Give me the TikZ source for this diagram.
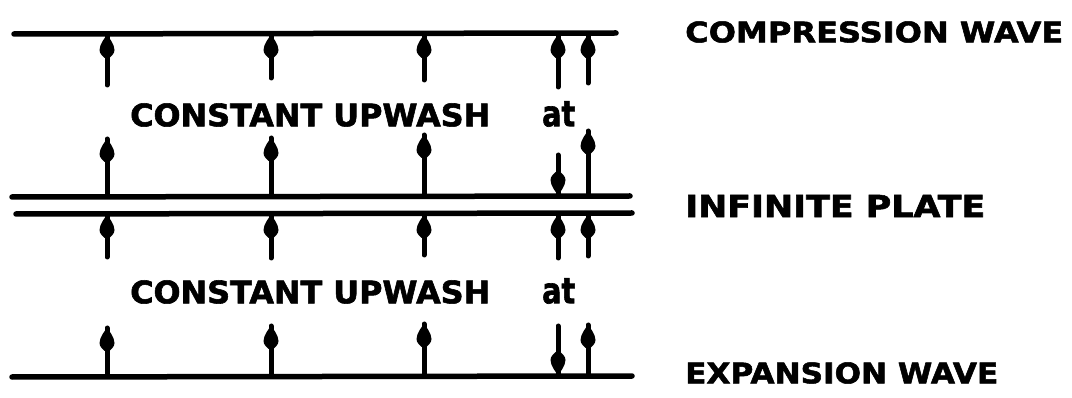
\documentclass[tikz,border=0pt]{standalone}
\usepackage{fontspec}
\setmainfont{DejaVu Sans}
\newfontfamily\heavy{DejaVu Sans Bold}[FakeBold=1.8]
\usepackage{graphicx}
\newcommand\lettr[3]{\resizebox{#1pt}{#2pt}{\heavy #3}}
\begin{document}
\begin{tikzpicture}[x=1pt,y=-1pt,
  rule/.style={line width=5.5pt,line cap=round},
  shaft/.style={line width=5pt,line cap=round},
  lbl/.style={inner sep=0pt,anchor=west},
  txt/.style={inner sep=0pt,anchor=west},
  head/.pic={\fill[line join=round] (0,0)
     .. controls (1.5,2) and (7.5,9) .. (7.5,15)
     .. controls (7.5,19) and (4,21) .. (2.5,23)
     -- (-2.5,23)
     .. controls (-4,21) and (-7.5,19) .. (-7.5,15)
     .. controls (-7.5,9) and (-1.5,2) .. (0,0) -- cycle;}]
\useasboundingbox (0,0) rectangle (1072,398);
% horizontal lines
\coordinate (topL) at (14,34);   \coordinate (topR) at (616,33);
\coordinate (plAL) at (12,197);  \coordinate (plAR) at (630,196);
\coordinate (plBL) at (16,214);  \coordinate (plBR) at (632,213);
\coordinate (botL) at (12,377);  \coordinate (botR) at (632,376);
\draw[rule] (topL) -- (topR);
\draw[rule] (plAL) -- (plAR);
\draw[rule] (plBL) -- (plBR);
\draw[rule] (botL) -- (botR);
% row 1: under compression wave, pointing up to the line
\foreach \i/\x/\t in {1/107/85,2/271/78,3/424/80,4/558/87,5/588/83}{
  \coordinate (aT\i) at (\x,\t); \coordinate (aH\i) at (\x,35);
  \draw[shaft] (aT\i) -- (aH\i); \pic at (aH\i) {head};}
% row 2: above the plate
\foreach \i/\x/\h in {1/107/139,2/271/138,3/424/135,5/588/131}{
  \coordinate (bT\i) at (\x,195); \coordinate (bH\i) at (\x,\h);
  \draw[shaft] (bT\i) -- (bH\i); \pic at (bH\i) {head};}
\coordinate (bT4) at (558,155); \coordinate (bH4) at (558,195);
\draw[shaft] (bT4) -- (bH4); \pic[rotate=180] at (bH4) {head};
% row 3: below the plate
\foreach \i/\x/\t in {1/107/257,2/271/258,3/424/255,4/558/258,5/588/256}{
  \coordinate (cT\i) at (\x,\t); \coordinate (cH\i) at (\x,215);
  \draw[shaft] (cT\i) -- (cH\i); \pic at (cH\i) {head};}
% row 4: above expansion wave
\foreach \i/\x/\h in {1/107/328,2/271/326,3/424/324,5/588/325}{
  \coordinate (dT\i) at (\x,375); \coordinate (dH\i) at (\x,\h);
  \draw[shaft] (dT\i) -- (dH\i); \pic at (dH\i) {head};}
\coordinate (dT4) at (558,326); \coordinate (dH4) at (558,375);
\draw[shaft] (dT4) -- (dH4); \pic[rotate=180] at (dH4) {head};
% texts
\node[txt] (t1) at (130,115) {\lettr{360}{23}{CONSTANT UPWASH}};
\node[txt] (t1at) at (542,114) {\lettr{33}{25}{at}};
\node[txt] (t2) at (130,292) {\lettr{360}{23}{CONSTANT UPWASH}};
\node[txt] (t2at) at (542,291) {\lettr{33}{25}{at}};
% labels
\node[lbl] (lc) at (685,32) {\lettr{378}{21}{COMPRESSION WAVE}};
\node[lbl] (lp) at (685,206) {\lettr{300}{22}{INFINITE PLATE}};
\node[lbl] (le) at (685,373) {\lettr{313}{21}{EXPANSION WAVE}};
\end{tikzpicture}
\end{document}
